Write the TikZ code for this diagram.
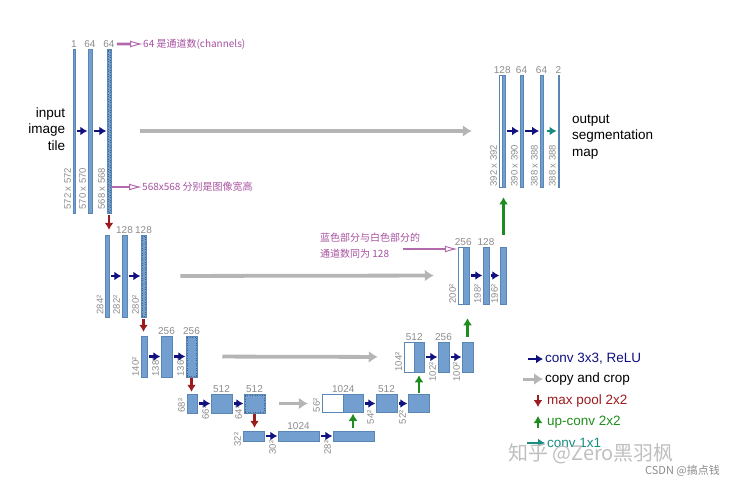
\documentclass[tikz,border=0pt]{standalone}
\usepackage{fontspec}
\setmainfont{Liberation Sans}
\newfontfamily\cjk{Noto Sans CJK SC}
\usetikzlibrary{arrows.meta,positioning,calc}
\usepackage{xcolor}

\definecolor{mapblue}{HTML}{729FCF}
\definecolor{mapedge}{HTML}{5A86B6}
\definecolor{convblue}{HTML}{10107F}
\definecolor{copygray}{HTML}{B5B5B5}
\definecolor{poolred}{HTML}{9B1B1E}
\definecolor{upgreen}{HTML}{1E8C1E}
\definecolor{outteal}{HTML}{188C80}
\definecolor{notepink}{HTML}{A6509F}
\definecolor{dimgray}{HTML}{8C8C8C}

\begin{document}
\begin{tikzpicture}[x=1pt, y=-1pt,
    fmap/.style={rectangle, draw=mapedge, fill=mapblue, inner sep=0pt, line width=0.5pt},
    wmap/.style={rectangle, draw=mapedge, fill=white, inner sep=0pt, line width=0.5pt},
    cropline/.style={draw=mapedge!75!black, dash pattern=on 1pt off 1.5pt, line width=0.5pt},
    ch/.style={font=\fontsize{10}{12}\selectfont, text=dimgray, inner sep=1pt, above},
    dim/.style={font=\fontsize{9.5}{11}\selectfont, text=dimgray, inner sep=0.5pt, rotate=90, anchor=south west},
    conv/.style={-{Latex[length=7pt,width=9pt]}, line width=2.8pt, convblue, shorten <=1.5pt, shorten >=0.5pt},
    copy/.style={-{Latex[length=9pt,width=12pt]}, line width=3.8pt, copygray},
    pool/.style={-{Latex[length=7pt,width=9pt]}, line width=2.8pt, poolred, shorten <=1.5pt, shorten >=3pt},
    upconv/.style={-{Latex[length=7pt,width=9pt]}, line width=2.8pt, upgreen},
    outconv/.style={-{Latex[length=7pt,width=9pt]}, line width=2.8pt, outteal, shorten <=3pt, shorten >=1pt},
    note/.style={-{Latex[open,length=13pt,width=7pt,line width=1pt]}, line width=2.6pt, notepink!85},
    notetxt/.style={font=\cjk\fontsize{10}{12}\selectfont, text=notepink, anchor=west, inner sep=0pt},
    legend/.style={font=\fontsize{13.5}{16}\selectfont, anchor=west, inner sep=0pt}
]
    \useasboundingbox (0,0) rectangle (741,485);

    % contracting path
    \node[fmap, minimum width=2pt, minimum height=164pt] (a1) at (74,131) {};
    \node[fmap, minimum width=4pt, minimum height=164pt] (b1) at (90,131) {};
    \node[fmap, minimum width=4pt, minimum height=164pt] (c1) at (109,131) {};

    \node[fmap, minimum width=4pt, minimum height=82pt] (a2) at (107.5,276) {};
    \node[fmap, minimum width=5pt, minimum height=82pt] (b2) at (124.5,276) {};
    \node[fmap, minimum width=5pt, minimum height=82pt] (c2) at (143.5,276) {};

    \node[fmap, minimum width=6pt, minimum height=41pt] (a3) at (144,356.5) {};
    \node[fmap, minimum width=11pt, minimum height=41pt] (b3) at (166.5,356.5) {};
    \node[fmap, minimum width=11pt, minimum height=41pt] (c3) at (191.5,356.5) {};

    \node[fmap, minimum width=10pt, minimum height=19pt] (a4) at (192,403.5) {};
    \node[fmap, minimum width=21pt, minimum height=19pt] (b4) at (221.5,403.5) {};
    \node[fmap, minimum width=21pt, minimum height=19pt] (c4) at (254.5,403.5) {};

    \node[fmap, minimum width=21pt, minimum height=10pt] (a5) at (253.5,436) {};
    \node[fmap, minimum width=41pt, minimum height=10pt] (b5) at (298.5,436) {};
    \node[fmap, minimum width=41pt, minimum height=10pt] (c5) at (353.5,436) {};

    % expansive path
    \node[wmap, minimum width=21pt, minimum height=18pt] (w4) at (332.5,403.5) {};
    \node[fmap, minimum width=20pt, minimum height=18pt] (u4) at (353,403.5) {};
    \node[fmap, minimum width=21pt, minimum height=18pt] (b4u) at (386.5,403.5) {};
    \node[fmap, minimum width=21pt, minimum height=18pt] (c4u) at (418.5,403.5) {};

    \node[wmap, minimum width=10pt, minimum height=30pt] (w3) at (409,357) {};
    \node[fmap, minimum width=10pt, minimum height=30pt] (u3) at (419,357) {};
    \node[fmap, minimum width=11pt, minimum height=30pt] (b3u) at (443.5,357) {};
    \node[fmap, minimum width=11pt, minimum height=30pt] (c3u) at (467.5,357) {};

    \node[wmap, minimum width=5pt, minimum height=57pt] (w2) at (460.5,275.5) {};
    \node[fmap, minimum width=6pt, minimum height=57pt] (u2) at (466,275.5) {};
    \node[fmap, minimum width=6pt, minimum height=57pt] (b2u) at (486,275.5) {};
    \node[fmap, minimum width=6pt, minimum height=57pt] (c2u) at (503,275.5) {};

    \node[wmap, minimum width=3pt, minimum height=112pt] (w1) at (500.5,131) {};
    \node[fmap, minimum width=3pt, minimum height=112pt] (u1) at (503.5,131) {};
    \node[fmap, minimum width=3.5pt, minimum height=112pt] (b1u) at (521.5,131) {};
    \node[fmap, minimum width=3.5pt, minimum height=112pt] (c1u) at (541.5,131) {};
    \node[fmap, minimum width=1.5pt, minimum height=112pt] (d1u) at (558.5,131) {};

    % cropped maps
    \foreach \m in {c1,c2,c3,c4}
        \draw[cropline] ([xshift=1pt,yshift=1pt]\m.south west) rectangle ([xshift=-1pt,yshift=-1pt]\m.north east);

    % channels
    \node[ch] (cha1) at (a1.north) {1};
    \node[ch] (chb1) at (b1.north) {64};
    \node[ch] (chc1) at (c1.north) {64};
    \node[ch] at (b2.north) {128};
    \node[ch] at (c2.north) {128};
    \node[ch] at (b3.north) {256};
    \node[ch] at (c3.north) {256};
    \node[ch] at (b4.north) {512};
    \node[ch] at (c4.north) {512};
    \node[ch] at (b5.north) {1024};
    \node[ch] at (w4.north east) {1024};
    \node[ch] at (b4u.north) {512};
    \node[ch] at (w3.north east) {512};
    \node[ch] at (b3u.north) {256};
    \node[ch] at (w2.north east) {256};
    \node[ch] at (b2u.north) {128};
    \node[ch] at (w1.north east) {128};
    \node[ch] at (b1u.north) {64};
    \node[ch] at (c1u.north) {64};
    \node[ch] at (d1u.north) {2};

    % sizes
    \node[dim] at ([xshift=-1pt,yshift=3pt]a1.south west) {572 x 572};
    \node[dim] at ([xshift=-1pt,yshift=3pt]b1.south west) {570 x 570};
    \node[dim] at ([xshift=-1pt,yshift=3pt]c1.south west) {568 x 568};
    \node[dim] at ([xshift=-1pt,yshift=2pt]a2.south west) {284²};
    \node[dim] at ([xshift=-1pt,yshift=2pt]b2.south west) {282²};
    \node[dim] at ([xshift=-1pt,yshift=2pt]c2.south west) {280²};
    \node[dim] at ([xshift=-1pt]a3.south west) {140²};
    \node[dim] at ([xshift=-1pt]b3.south west) {138²};
    \node[dim] at ([xshift=-1pt]c3.south west) {136²};
    \node[dim] at ([xshift=-1pt]a4.south west) {68²};
    \node[dim] at ([xshift=-1pt,yshift=-7pt]b4.south west) {66²};
    \node[dim] at ([xshift=-1pt,yshift=-7pt]c4.south west) {64²};
    \node[dim] at ([xshift=-1pt,yshift=-6pt]a5.south west) {32²};
    \node[dim] at ([xshift=-1pt,yshift=-14pt]b5.south west) {30²};
    \node[dim] at ([xshift=-1pt,yshift=-14pt]c5.south west) {28²};
    \node[dim] at ([xshift=-1pt]w4.south west) {56²};
    \node[dim] at ([xshift=-1pt,yshift=-12pt]b4u.south west) {54²};
    \node[dim] at ([xshift=-1pt,yshift=-12pt]c4u.south west) {52²};
    \node[dim] at ([xshift=-1pt]w3.south west) {104²};
    \node[dim] at ([xshift=-1pt,yshift=-10pt]b3u.south west) {102²};
    \node[dim] at ([xshift=-1pt,yshift=-10pt]c3u.south west) {100²};
    \node[dim] at ([xshift=-1pt]w2.south west) {200²};
    \node[dim] at ([xshift=-1pt]b2u.south west) {198²};
    \node[dim] at ([xshift=-1pt]c2u.south west) {196²};
    \node[dim] at ([xshift=-1pt]w1.south west) {392 x 392};
    \node[dim] at ([xshift=-1pt]b1u.south west) {390 x 390};
    \node[dim] at ([xshift=-1pt]c1u.south west) {388 x 388};
    \node[dim] at ([xshift=-1pt]d1u.south west) {388 x 388};

    % conv 3x3
    \draw[conv] (a1) -- (b1);
    \draw[conv] (b1) -- (c1);
    \draw[conv] (a2) -- (b2);
    \draw[conv] (b2) -- (c2);
    \draw[conv] (a3) -- (b3);
    \draw[conv] (b3) -- (c3);
    \draw[conv] (a4) -- (b4);
    \draw[conv] (b4) -- (c4);
    \draw[conv] (a5) -- (b5);
    \draw[conv] (b5) -- (c5);
    \draw[conv] (u4) -- (b4u);
    \draw[conv] (b4u) -- (c4u);
    \draw[conv] (u3) -- (b3u);
    \draw[conv] (b3u) -- (c3u);
    \draw[conv] (u2) -- (b2u);
    \draw[conv] (b2u) -- (c2u);
    \draw[conv] (u1) -- (b1u);
    \draw[conv] (b1u) -- (c1u);
    \draw[outconv] (c1u) -- (d1u);

    % copy and crop
    \draw[copy, shorten <=29pt, shorten >=27pt] (c1.east) -- (w1.west);
    \draw[copy, shorten <=34pt, shorten >=24pt] (c2.east) -- (w2.west);
    \draw[copy, shorten <=25pt, shorten >=26pt] (c3.east) -- (w3.west);
    \draw[copy, shorten <=14pt, shorten >=14pt] (c4.east) -- (w4.west);

    % max pool
    \draw[pool, shorten <=2pt, shorten >=5pt] (c1.south) -- (c1.south |- a2.north);
    \draw[pool, shorten >=4pt] (c2.south) -- (c2.south |- a3.north);
    \draw[pool, shorten <=1pt, shorten >=2pt] (c3.south) -- (c3.south |- a4.north);
    \draw[pool, shorten <=1pt] (c4.south) -- (c4.south |- a5.north);

    % up-conv
    \draw[upconv, shorten <=3pt, shorten >=1pt] (u4.south |- c5.north) -- (u4.south);
    \draw[upconv, shorten <=1.5pt, shorten >=3pt] (u3.south |- c4u.north) -- (u3.south);
    \draw[upconv, shorten <=5pt, shorten >=14pt] ([xshift=1.5pt]u2.south |- c3u.north) -- ([xshift=1.5pt]u2.south);
    \draw[upconv, shorten <=12pt, shorten >=10pt] (u1.south |- c2u.north) -- (u1.south);

    % texts
    \node[font=\fontsize{13.5}{16.5}\selectfont, align=right, left=4pt of a1, yshift=2pt] (inp) {input\\image\\tile};
    \node[font=\fontsize{13.5}{16.5}\selectfont, align=left, right=9pt of d1u, yshift=-6pt] (outp) {output\\segmentation\\map};

    % notes
    \node[notetxt] (n1) at (143,44) {64 是通道数(channels)};
    \node[notetxt] (n2) at (142,187) {568x568 分别是图像宽高};
    \node[notetxt] (n3a) at (320,238) {蓝色部分与白色部分的};
    \node[notetxt] (n3b) at (320,254) {通道数同为 128};
    \coordinate (p3) at (403,249);
    \draw[note, shorten <=1pt] (chc1.east) -- (n1.west);
    \draw[note] (c1.east |- n2.west) -- (n2.west);
    \draw[note] (p3) -- (w2.west |- p3);

    % legend
    \node[legend, text=convblue] (lgconv) at (545,359) {conv 3x3, ReLU};
    \node[legend] (lgcopy) at (545,379) {copy and crop};
    \node[legend, text=poolred] (lgpool) at (547,401) {max pool 2x2};
    \node[legend, text=upgreen] (lgup) at (547,422) {up-conv 2x2};
    \node[legend, text=outteal] (lgout) at (547,443) {conv 1x1};
    \draw[conv, shorten <=0pt, shorten >=2pt] ([xshift=-17pt]lgconv.west) -- (lgconv.west);
    \draw[copy, line width=3pt] ([xshift=-22pt]lgcopy.west) -- ([xshift=-2pt]lgcopy.west);
    \draw[pool, shorten <=0pt, shorten >=0pt] ([xshift=-9pt,yshift=6pt]lgpool.west) -- ([xshift=-9pt,yshift=-6pt]lgpool.west);
    \draw[upconv] ([xshift=-9pt,yshift=-6pt]lgup.west) -- ([xshift=-9pt,yshift=6pt]lgup.west);
    \draw[outconv, shorten <=0pt, shorten >=2pt] ([xshift=-20pt]lgout.west) -- (lgout.west);

    % watermarks
    \node[font=\cjk\fontsize{20}{22}\selectfont, text=black!25, anchor=west, inner sep=0pt] (wm1) at (508,454) {知乎 @Zero黑羽枫};
    \node[font=\cjk\fontsize{11}{13}\selectfont, text=black!45, anchor=west, inner sep=0pt] (wm2) at (645,471) {CSDN @搞点钱};
\end{tikzpicture}
\end{document}
